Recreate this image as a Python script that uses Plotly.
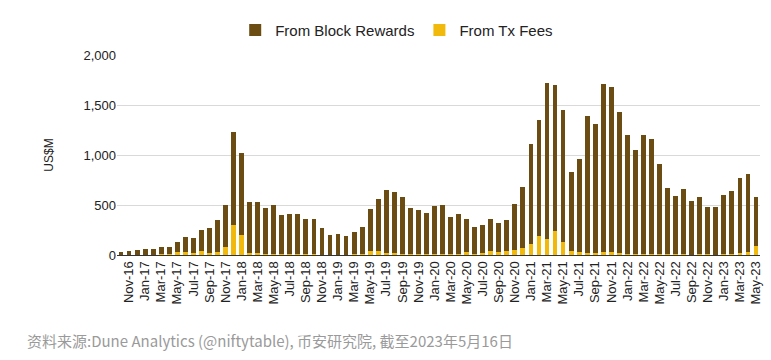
import plotly.graph_objects as go

months = [
    "Oct-16", "Nov-16", "Dec-16",
    "Jan-17", "Feb-17", "Mar-17", "Apr-17", "May-17", "Jun-17", "Jul-17", "Aug-17", "Sep-17", "Oct-17", "Nov-17", "Dec-17",
    "Jan-18", "Feb-18", "Mar-18", "Apr-18", "May-18", "Jun-18", "Jul-18", "Aug-18", "Sep-18", "Oct-18", "Nov-18", "Dec-18",
    "Jan-19", "Feb-19", "Mar-19", "Apr-19", "May-19", "Jun-19", "Jul-19", "Aug-19", "Sep-19", "Oct-19", "Nov-19", "Dec-19",
    "Jan-20", "Feb-20", "Mar-20", "Apr-20", "May-20", "Jun-20", "Jul-20", "Aug-20", "Sep-20", "Oct-20", "Nov-20", "Dec-20",
    "Jan-21", "Feb-21", "Mar-21", "Apr-21", "May-21", "Jun-21", "Jul-21", "Aug-21", "Sep-21", "Oct-21", "Nov-21", "Dec-21",
    "Jan-22", "Feb-22", "Mar-22", "Apr-22", "May-22", "Jun-22", "Jul-22", "Aug-22", "Sep-22", "Oct-22", "Nov-22", "Dec-22",
    "Jan-23", "Feb-23", "Mar-23", "Apr-23", "May-23",
]

# Total miner revenue (US$M) per month
total_revenue = [
    30, 42, 50,
    60, 60, 78, 78, 135, 177, 167, 247, 267, 347, 497, 1233,
    1023, 533, 533, 467, 497, 397, 413, 407, 363, 357, 270, 203,
    210, 187, 227, 285, 460, 560, 653, 627, 577, 473, 450, 417,
    490, 500, 380, 407, 363, 277, 297, 362, 323, 347, 507, 677,
    1110, 1350, 1723, 1697, 1450, 830, 957, 1390, 1307, 1707, 1680, 1433,
    1205, 1053, 1197, 1157, 907, 670, 593, 657, 543, 583, 477, 477,
    603, 637, 773, 813, 577,
]

# Revenue from transaction fees (US$M)
tx_fees = [
    2, 3, 3,
    4, 4, 6, 6, 30, 33, 17, 40, 23, 30, 80, 297,
    205, 25, 17, 12, 13, 10, 8, 7, 6, 6, 5, 4,
    4, 5, 7, 12, 40, 43, 23, 20, 15, 10, 8, 7,
    10, 12, 10, 12, 33, 15, 25, 45, 27, 40, 50, 67,
    110, 190, 165, 245, 127, 40, 27, 17, 17, 27, 27, 17,
    15, 12, 15, 12, 15, 8, 7, 7, 5, 8, 6, 5,
    7, 15, 25, 27, 93,
]

block_rewards = [t - f for t, f in zip(total_revenue, tx_fees)]
tick_labels = months[1::2]

BROWN = "#6b4c12"
YELLOW = "#f0b90b"
FONT = "Liberation Sans, Arial, sans-serif"

fig = go.Figure()
fig.add_trace(go.Bar(x=months, y=tx_fees, name="From Tx Fees",
                     marker=dict(color=YELLOW, line=dict(width=0))))
fig.add_trace(go.Bar(x=months, y=block_rewards, name="From Block Rewards",
                     marker=dict(color=BROWN, line=dict(width=0))))

fig.update_layout(
    width=771, height=360,
    barmode="stack", bargap=0.4,
    plot_bgcolor="white", paper_bgcolor="white",
    margin=dict(l=117, r=8, t=55, b=105),
    font=dict(family=FONT, size=13, color="#222222"),
    legend=dict(orientation="h", x=0.435, xanchor="center", y=1.124, yanchor="middle",
                traceorder="reversed", font=dict(size=15, color="#222222"),
                itemwidth=30, bgcolor="rgba(0,0,0,0)"),
    xaxis=dict(type="category", tickmode="array", tickvals=tick_labels, ticktext=tick_labels,
               tickangle=-90, showgrid=False, showline=True, linecolor="#333333", linewidth=1,
               ticks="", tickfont=dict(size=13, color="#222222")),
    yaxis=dict(range=[0, 2000], tickvals=[0, 500, 1000, 1500, 2000], tickformat=",",
               showgrid=True, gridcolor="#d9d9d9", gridwidth=1, zeroline=False,
               showline=False, ticks="", tickfont=dict(size=13, color="#222222"),
               title=dict(text="US$M", font=dict(size=12, color="#222222"), standoff=27)),
    annotations=[dict(text="资料来源:Dune Analytics (@niftytable), 币安研究院, 截至2023年5月16日",
                      xref="paper", yref="paper", x=(25 - 117) / 646, y=-85 / 200,
                      xanchor="left", yanchor="middle", showarrow=False,
                      font=dict(family="Noto Sans CJK SC", size=15, color="#9a9a9a"))],
)

fig.write_html("out.html", config={"displayModeBar": False},
               post_script="document.body.style.margin='0';")
